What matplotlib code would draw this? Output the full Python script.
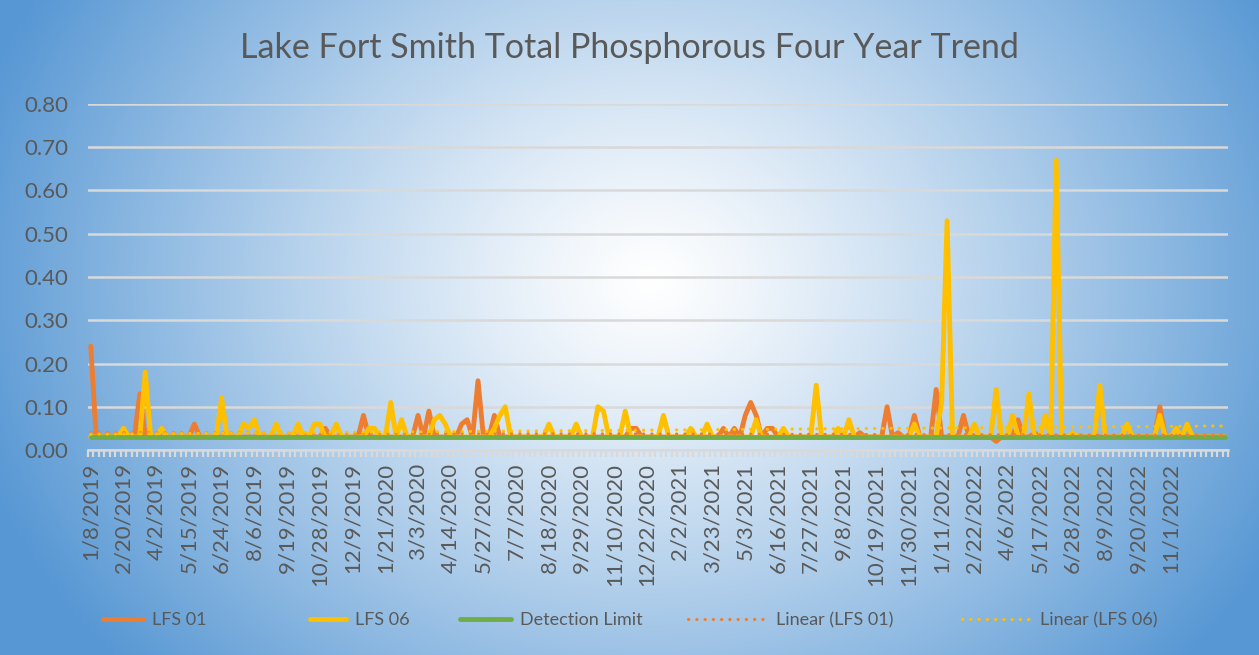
import matplotlib.pyplot as plt
import numpy as np

# sample dates shown on the axis (every 6th sample)
date_labels = ["1/8/2019", "2/20/2019", "4/2/2019", "5/15/2019", "6/24/2019", "8/6/2019",
               "9/19/2019", "10/28/2019", "12/9/2019", "1/21/2020", "3/3/2020", "4/14/2020",
               "5/27/2020", "7/7/2020", "8/18/2020", "9/29/2020", "11/10/2020", "12/22/2020",
               "2/2/2021", "3/23/2021", "5/3/2021", "6/16/2021", "7/27/2021", "9/8/2021",
               "10/19/2021", "11/30/2021", "1/11/2022", "2/22/2022", "4/6/2022", "5/17/2022",
               "6/28/2022", "8/9/2022", "9/20/2022", "11/1/2022"]
label_step = 6
n_samples = 209

lfs01 = [0.24, 0.03, 0.03, 0.03, 0.03, 0.03, 0.03, 0.03, 0.03, 0.13,
         0.03, 0.03, 0.03, 0.03, 0.03, 0.03, 0.03, 0.03, 0.03, 0.06,
         0.03, 0.03, 0.03, 0.03, 0.03, 0.03, 0.03, 0.03, 0.03, 0.03,
         0.03, 0.03, 0.03, 0.03, 0.03, 0.03, 0.03, 0.03, 0.03, 0.03,
         0.03, 0.03, 0.03, 0.05, 0.03, 0.03, 0.03, 0.03, 0.03, 0.03,
         0.08, 0.03, 0.03, 0.03, 0.03, 0.03, 0.03, 0.03, 0.03, 0.03,
         0.08, 0.03, 0.09, 0.03, 0.03, 0.03, 0.03, 0.03, 0.06, 0.07,
         0.03, 0.16, 0.03, 0.03, 0.08, 0.03, 0.03, 0.03, 0.03, 0.03,
         0.03, 0.03, 0.03, 0.03, 0.03, 0.03, 0.03, 0.03, 0.03, 0.03,
         0.03, 0.03, 0.03, 0.03, 0.03, 0.03, 0.03, 0.03, 0.03, 0.05,
         0.05, 0.03, 0.03, 0.03, 0.03, 0.03, 0.03, 0.03, 0.03, 0.03,
         0.03, 0.03, 0.03, 0.03, 0.03, 0.03, 0.05, 0.03, 0.05, 0.03,
         0.08, 0.11, 0.08, 0.03, 0.05, 0.05, 0.03, 0.03, 0.03, 0.03,
         0.03, 0.03, 0.03, 0.03, 0.03, 0.03, 0.03, 0.03, 0.03, 0.03,
         0.03, 0.04, 0.03, 0.03, 0.03, 0.03, 0.10, 0.03, 0.04, 0.03,
         0.03, 0.08, 0.03, 0.03, 0.03, 0.14, 0.03, 0.03, 0.03, 0.03,
         0.08, 0.03, 0.03, 0.03, 0.03, 0.03, 0.02, 0.03, 0.03, 0.03,
         0.07, 0.03, 0.03, 0.04, 0.03, 0.03, 0.03, 0.03, 0.03, 0.03,
         0.03, 0.03, 0.03, 0.03, 0.03, 0.03, 0.03, 0.03, 0.03, 0.03,
         0.03, 0.03, 0.03, 0.03, 0.03, 0.03, 0.10, 0.03, 0.03, 0.03,
         0.03, 0.03, 0.03, 0.03, 0.03, 0.03, 0.03, 0.03, 0.03]

lfs06 = [0.03, 0.03, 0.03, 0.03, 0.03, 0.03, 0.05, 0.03, 0.03, 0.03,
         0.18, 0.03, 0.03, 0.05, 0.03, 0.03, 0.03, 0.03, 0.03, 0.03,
         0.03, 0.03, 0.03, 0.03, 0.12, 0.03, 0.03, 0.03, 0.06, 0.05,
         0.07, 0.03, 0.03, 0.03, 0.06, 0.03, 0.03, 0.03, 0.06, 0.03,
         0.03, 0.06, 0.06, 0.03, 0.03, 0.06, 0.03, 0.03, 0.03, 0.03,
         0.03, 0.05, 0.05, 0.03, 0.03, 0.11, 0.03, 0.07, 0.03, 0.03,
         0.03, 0.03, 0.03, 0.07, 0.08, 0.06, 0.03, 0.03, 0.03, 0.03,
         0.03, 0.03, 0.03, 0.03, 0.05, 0.08, 0.10, 0.03, 0.03, 0.03,
         0.03, 0.03, 0.03, 0.03, 0.06, 0.03, 0.03, 0.03, 0.03, 0.06,
         0.03, 0.03, 0.03, 0.10, 0.09, 0.03, 0.03, 0.03, 0.09, 0.03,
         0.03, 0.03, 0.03, 0.03, 0.03, 0.08, 0.03, 0.03, 0.03, 0.03,
         0.05, 0.03, 0.03, 0.06, 0.03, 0.03, 0.03, 0.03, 0.03, 0.03,
         0.03, 0.03, 0.07, 0.03, 0.03, 0.03, 0.03, 0.05, 0.03, 0.03,
         0.03, 0.03, 0.03, 0.15, 0.03, 0.03, 0.03, 0.05, 0.03, 0.07,
         0.03, 0.03, 0.03, 0.03, 0.03, 0.03, 0.03, 0.03, 0.03, 0.03,
         0.03, 0.06, 0.03, 0.03, 0.03, 0.03, 0.11, 0.53, 0.03, 0.03,
         0.03, 0.03, 0.06, 0.03, 0.03, 0.03, 0.14, 0.03, 0.03, 0.08,
         0.03, 0.03, 0.13, 0.03, 0.03, 0.08, 0.03, 0.67, 0.03, 0.03,
         0.04, 0.03, 0.03, 0.03, 0.03, 0.15, 0.03, 0.03, 0.03, 0.03,
         0.06, 0.03, 0.03, 0.03, 0.03, 0.03, 0.08, 0.03, 0.03, 0.05,
         0.03, 0.06, 0.03, 0.03, 0.03, 0.03, 0.03, 0.03, 0.03]

detection_limit = [0.03] * n_samples

ORANGE = "#ED7D31"
GOLD = "#FFC000"
GREEN = "#70AD47"
GREY_TEXT = "#595959"
GRID = "#D9D9D9"


def gradient_background(fig):
    # radial gradient, white in the middle, blue at the edges
    w, h = 1259, 655
    yy, xx = np.mgrid[0:h, 0:w]
    t = np.sqrt(((xx - 650) / 700.0) ** 2 + ((yy - 280) / 580.0) ** 2)
    t = np.clip(t, 0, 1) ** 1.2
    edge = np.array([88, 152, 212]) / 255.0
    img = np.ones((h, w, 3)) * (1 - t[..., None]) + edge * t[..., None]
    bg = fig.add_axes([0, 0, 1, 1], zorder=-10)
    bg.imshow(img, aspect="auto", extent=[0, 1, 0, 1])
    bg.axis("off")


def main():
    plt.rcParams['font.family'] = ['Lato', 'DejaVu Sans']
    fig = plt.figure(figsize=(12.59, 6.55), dpi=100)
    gradient_background(fig)

    ax = fig.add_axes([88 / 1259, 205 / 655, 1140 / 1259, 346 / 655])
    ax.set_facecolor("none")

    x = np.arange(n_samples)
    ax.plot(x, lfs01, color=ORANGE, lw=3.5, solid_joinstyle="round",
            solid_capstyle="round", label="LFS 01", zorder=3)
    ax.plot(x, lfs06, color=GOLD, lw=3.5, solid_joinstyle="round",
            solid_capstyle="round", label="LFS 06", zorder=4)
    ax.plot(x, detection_limit, color=GREEN, lw=3.5, solid_capstyle="round",
            label="Detection Limit", zorder=5)

    # linear trend lines
    for series, color, name in [(lfs01, ORANGE, "Linear (LFS 01)"),
                                (lfs06, GOLD, "Linear (LFS 06)")]:
        slope, icpt = np.polyfit(x, series, 1)
        ax.plot(x, slope * x + icpt, color=color, lw=2.2,
                linestyle=(0, (0.1, 2.6)), dash_capstyle="round",
                label=name, zorder=6)

    ax.set_xlim(-0.5, n_samples - 0.5)
    ax.set_ylim(0, 0.8)
    ax.set_yticks(np.arange(0, 0.81, 0.1))
    ax.set_yticklabels([f"{v:.2f}" for v in np.arange(0, 0.81, 0.1)])
    ax.grid(axis="y", color=GRID, lw=1.8, zorder=0)
    ax.set_axisbelow(True)

    ax.set_xticks(x[::label_step][:len(date_labels)])
    ax.set_xticklabels(date_labels, rotation=90)
    ax.set_xticks(np.arange(-0.5, n_samples, 1), minor=True)

    ax.tick_params(axis="y", length=0, pad=14, labelsize=16, labelcolor=GREY_TEXT)
    ax.tick_params(axis="x", which="major", length=0, pad=9, labelsize=16,
                   labelcolor=GREY_TEXT)
    ax.tick_params(axis="x", which="minor", length=5, width=1.6, color=GRID)

    for side in ["top", "left", "right"]:
        ax.spines[side].set_visible(False)
    ax.spines["bottom"].set_color(GRID)
    ax.spines["bottom"].set_linewidth(1.8)

    fig.text(0.5, 0.927, "Lake Fort Smith Total Phosphorous Four Year Trend",
             ha="center", va="center", fontsize=24.5, color=GREY_TEXT)

    # legend entries placed one by one, like the spread-out Excel legend
    handles, labels = ax.get_legend_handles_labels()
    starts = [103, 310, 460, 688, 962]
    lengths = [2.2, 2.0, 2.8, 4.4, 3.8]
    for h, lab, x0, hl in zip(handles, labels, starts, lengths):
        fig.legend([h], [lab], loc="center left", bbox_to_anchor=(x0 / 1259, 0.053),
                   frameon=False, fontsize=13, labelcolor=GREY_TEXT,
                   handlelength=hl, handletextpad=0.5, borderpad=0, borderaxespad=0)

    fig.savefig("out.png", dpi=100)


if __name__ == "__main__":
    main()
